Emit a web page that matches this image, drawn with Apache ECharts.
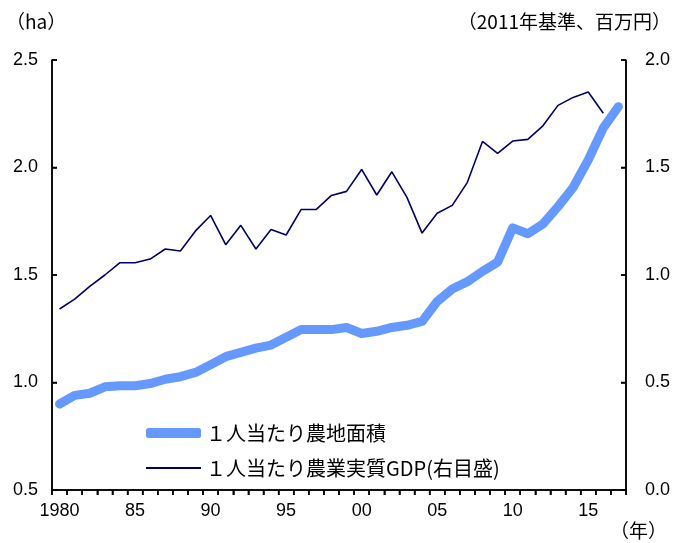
<!DOCTYPE html>
<html>
<head>
<meta charset="utf-8">
<script src="https://cdn.jsdelivr.net/npm/echarts@6/dist/echarts.min.js"></script>
<style>
  html, body { margin: 0; padding: 0; background: #fff; }
  #chart { width: 673px; height: 543px; }
</style>
</head>
<body>
<div id="chart"></div>
<script>
// 年（カテゴリ）
var years = ['1980','1981','1982','1983','1984','1985','1986','1987','1988','1989',
  '1990','1991','1992','1993','1994','1995','1996','1997','1998','1999',
  '2000','2001','2002','2003','2004','2005','2006','2007','2008','2009',
  '2010','2011','2012','2013','2014','2015','2016','2017']

// 1人当たり農地面積 (ha)
var landArea = [0.90, 0.94, 0.95, 0.98, 0.985, 0.985, 0.995, 1.015, 1.027, 1.047,
  1.083, 1.12, 1.14, 1.16, 1.174, 1.21, 1.246, 1.246, 1.246, 1.256,
  1.228, 1.238, 1.256, 1.266, 1.284, 1.377, 1.435, 1.469, 1.517, 1.56,
  1.719, 1.692, 1.737, 1.818, 1.907, 2.035, 2.184, 2.283]

// 1人当たり農業実質GDP (百万円, 右目盛)
var realGdp = [0.842, 0.888, 0.947, 1.00, 1.057, 1.057, 1.074, 1.121, 1.112, 1.205,
  1.277, 1.141, 1.231, 1.121, 1.212, 1.186, 1.305, 1.305, 1.37, 1.389,
  1.491, 1.372, 1.48, 1.361, 1.195, 1.287, 1.324, 1.431, 1.621, 1.566,
  1.623, 1.631, 1.694, 1.789, 1.826, 1.851, 1.752, null]

// 目盛
var leftTicks = [0.5, 1.0, 1.5, 2.0, 2.5]
var rightTicks = [0.0, 0.5, 1.0, 1.5, 2.0]

var seriesNames = ['１人当たり農地面積', '１人当たり農業実質GDP(右目盛)']

var numFont = '"Liberation Sans", "Noto Sans CJK JP", sans-serif'
var jpFont = '"Noto Sans CJK JP", sans-serif'
var axisStyle = { color: '#000', width: 1.5 }

var texts = [
  { type: 'text', id: 'unitL', left: 6, top: 12, style: { text: '（ha）', font: '19px ' + jpFont, fill: '#000' } },
  { type: 'text', id: 'unitR', right: 2, top: 12, style: { text: '（2011年基準、百万円）', font: '19px ' + jpFont, fill: '#000' } },
  { type: 'text', id: 'unitX', right: 6, top: 521, style: { text: '（年）', font: '19px ' + jpFont, fill: '#000' } }
]

var chart = echarts.init(document.getElementById('chart'))

chart.setOption({
  backgroundColor: '#fff',
  animation: false,
  grid: {
    left: 52,
    right: 44,
    top: 60,
    bottom: 53
  },
  legend: [
    {
      left: 146,
      top: 423,
      padding: 0,
      itemWidth: 55,
      itemHeight: 10,
      icon: 'roundRect',
      textStyle: { color: '#000', fontSize: 20, fontFamily: jpFont },
      data: [seriesNames[0]]
    },
    {
      left: 146,
      top: 458,
      padding: 0,
      itemWidth: 55,
      itemHeight: 2,
      icon: 'rect',
      textStyle: { color: '#000', fontSize: 20, fontFamily: jpFont },
      data: [seriesNames[1]]
    }
  ],
  xAxis: {
    type: 'category',
    data: years,
    boundaryGap: true,
    axisLine: { show: true, onZero: false, lineStyle: axisStyle },
    axisTick: { show: true, interval: 0, inside: false, length: 5, lineStyle: axisStyle },
    axisLabel: {
      interval: 4,
      margin: 12,
      color: '#000',
      fontSize: 18,
      fontFamily: numFont,
      formatter: function (v, i) {
        return i === 0 ? v : v.slice(2)
      }
    },
    splitLine: { show: false }
  },
  yAxis: [
    {
      type: 'value',
      min: 0.5,
      max: 2.5,
      interval: 0.5,
      position: 'left',
      axisLine: { show: true, onZero: false, lineStyle: axisStyle },
      axisTick: { show: true, inside: true, length: 5, lineStyle: axisStyle },
      axisLabel: {
        margin: 14,
        color: '#000',
        fontSize: 18,
        fontFamily: numFont,
        formatter: function (v) { return v.toFixed(1) }
      },
      splitLine: { show: false }
    },
    {
      type: 'value',
      min: 0,
      max: 2,
      interval: 0.5,
      position: 'right',
      axisLine: { show: true, onZero: false, lineStyle: axisStyle },
      axisTick: { show: true, inside: true, length: 5, lineStyle: axisStyle },
      axisLabel: {
        margin: 19,
        color: '#000',
        fontSize: 18,
        fontFamily: numFont,
        formatter: function (v) { return v.toFixed(1) }
      },
      splitLine: { show: false }
    }
  ],
  series: [
    {
      name: seriesNames[0],
      type: 'line',
      yAxisIndex: 0,
      data: landArea,
      symbol: 'none',
      color: '#6699FF',
      lineStyle: { color: '#6699FF', width: 9, cap: 'round', join: 'round' },
      z: 2
    },
    {
      name: seriesNames[1],
      type: 'line',
      yAxisIndex: 1,
      data: realGdp,
      symbol: 'none',
      color: '#000066',
      lineStyle: { color: '#000066', width: 1.6 },
      z: 3
    }
  ]
})

// 軸線・目盛が表示されないことがあるため、軸のスケールから位置を取って枠を描き直す
function axisFrame() {
  var cx = function (i) { return chart.convertToPixel({ xAxisIndex: 0 }, years[i]) }
  var band = cx(1) - cx(0)
  var xL = cx(0) - band / 2
  var xR = cx(years.length - 1) + band / 2
  var yB = chart.convertToPixel({ yAxisIndex: 0 }, leftTicks[0])
  var yT = chart.convertToPixel({ yAxisIndex: 0 }, leftTicks[leftTicks.length - 1])
  var st = { stroke: '#000', lineWidth: 1.5, fill: null }
  var els = []
  els.push({
    type: 'polyline', id: 'frame', z: 10,
    shape: { points: [[xL, yT], [xL, yB], [xR, yB], [xR, yT]] },
    style: st
  })
  // 横軸の目盛（年の境界、外向き）
  for (var i = 0; i <= years.length; i++) {
    var x = xL + band * i
    els.push({ type: 'line', id: 'xt' + i, z: 10, shape: { x1: x, y1: yB, x2: x, y2: yB + 5 }, style: st })
  }
  // 左右の目盛（内向き）
  leftTicks.forEach(function (v, k) {
    var y = chart.convertToPixel({ yAxisIndex: 0 }, v)
    els.push({ type: 'line', id: 'lt' + k, z: 10, shape: { x1: xL, y1: y, x2: xL + 5, y2: y }, style: st })
  })
  rightTicks.forEach(function (v, k) {
    var y = chart.convertToPixel({ yAxisIndex: 1 }, v)
    els.push({ type: 'line', id: 'rt' + k, z: 10, shape: { x1: xR - 5, y1: y, x2: xR, y2: y }, style: st })
  })
  chart.setOption({ graphic: texts.concat(els) })
}
axisFrame()
</script>
</body>
</html>
